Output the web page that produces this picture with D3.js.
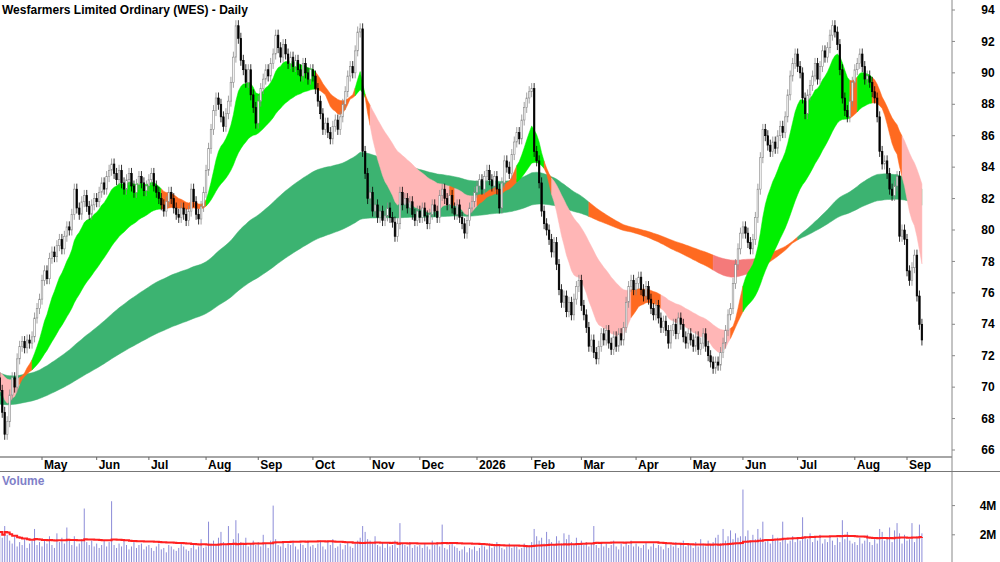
<!DOCTYPE html>
<html>
<head>
<meta charset="utf-8">
<script src="https://cdn.jsdelivr.net/npm/d3@7"></script>
<style>
  body { margin: 0; background: #fff; }
  text { font-family: Arial, "Liberation Sans", sans-serif; }
</style>
</head>
<body>
<svg id="chart" width="1000" height="562"></svg>
<script>
// daily closes, one row per month (Apr 2025 .. Sep 2026)
const closeRows = [
  [69.8,68.4,67.0,67.8,69.5,70.6,70.0,71.8,72.6,72.9,72.5,73.0,72.8,73.2,74.4,75.0,75.6],
  [76.8,77.4,76.9,78.2,78.6,78.3,79.0,79.4,78.8,79.6,80.2,80.0,81.0,82.6,81.4,81.0,81.8,82.2,81.5,81.0,81.6,82.0],
  [81.8,82.4,83.0,82.6,83.4,83.8,84.2,83.6,83.2,83.8,83.0,82.6,83.2,83.6,82.8,82.4,82.9,83.4,83.0,82.5,82.8],
  [83.2,83.6,82.8,82.4,82.0,81.6,81.2,81.8,82.4,82.0,81.4,81.0,80.8,81.4,81.0,80.6,81.2,82.6,81.8,81.0,80.7,81.5,82.4],
  [83.8,85.2,86.4,87.6,88.4,88.0,87.2,86.6,87.4,88.2,89.4,91.0,93.0,92.2,90.8,90.2,89.4,90.2,88.6,87.8,86.8],
  [88.2,89.0,89.6,90.2,89.8,90.6,91.2,92.4,91.6,91.0,91.8,91.2,90.6,91.0,90.4,90.8,90.2,89.8,90.6,90.0,89.6,90.2],
  [89.8,89.0,88.2,87.4,86.4,86.8,86.2,85.8,86.6,87.0,86.4,87.2,88.0,88.8,89.8,90.4,90.0,91.4,92.6,92.8,85.0,83.6,82.0],
  [82.4,81.2,81.6,80.8,81.2,80.6,80.9,81.4,80.8,80.5,79.6,80.4,82.4,81.6,82.0,81.4,81.8,81.0,80.6,81.2],
  [80.8,81.4,80.9,80.4,81.0,81.6,81.2,80.8,82.2,82.6,82.0,81.6,82.2,81.4,81.0,81.6,80.8,80.4,79.8,80.6,81.4,81.8,82.4],
  [82.8,83.2,82.6,83.4,83.8,83.2,82.8,83.4,82.6,81.4,83.0,84.4,84.0,83.6,84.8,85.6,86.2,85.8,87.0,87.8,88.4,88.8],
  [89.0,85.0,84.4,83.0,81.2,80.4,80.0,79.4,78.6,79.2,77.8,76.2,75.4,75.8,74.8,75.4,74.6,75.6,76.4,76.8],
  [75.2,74.6,73.8,72.6,73.0,72.2,71.8,72.6,73.4,73.0,73.6,72.8,72.4,73.2,72.6,73.4,73.0,73.8,75.4,76.4,76.8,76.2],
  [76.6,77.0,76.2,75.8,76.4,75.6,75.0,74.6,75.2,74.4,73.8,74.2,73.6,72.8,73.6,74.0,73.4,74.4,74.0,73.2,72.8,73.4],
  [73.0,72.6,73.2,72.4,72.8,73.4,72.6,72.0,71.6,71.2,71.6,71.4,72.2,72.8,73.6,74.6,75.0,76.6,77.8,78.8,79.8],
  [80.2,79.8,79.2,78.8,79.4,80.8,82.6,84.6,86.4,86.0,85.4,85.0,85.6,85.2,86.0,86.6,86.2,87.2,88.6,89.8,90.6,91.2],
  [90.4,90.0,88.4,87.4,88.6,89.2,89.8,90.6,89.6,90.4,91.4,91.0,91.6,92.4,93.0,92.6,91.8,90.2,88.4,87.6,87.2,88.2,89.4],
  [90.2,90.6,91.2,90.4,89.6,89.8,89.4,88.8,88.4,87.2,85.0,84.2,84.4,83.6,82.6,82.2,82.8,83.4,79.6,80.0,79.4],
  [77.4,76.8,77.6,78.4,75.8,74.0,73.0]
];
// daily volume in millions
const volumeRows = [
  [2.2,1.8,2.6,2.0,1.6,1.4,1.9,1.2,1.5,1.3,1.7,1.1,1.4,1.6,2.4,1.3,1.5],
  [1.2,1.6,1.4,1.9,1.3,1.1,2.1,1.5,1.8,1.4,2.5,1.6,1.3,1.9,1.2,1.4,1.7,3.8,1.5,1.3,1.6,1.2],
  [1.4,1.1,1.3,1.6,1.2,1.5,4.3,1.3,1.1,1.4,1.2,1.6,1.3,1.0,1.2,1.5,1.1,1.3,1.4,1.0,1.2],
  [1.3,1.1,0.9,1.2,1.4,1.0,1.1,0.8,1.3,1.2,1.0,0.9,1.1,1.5,1.2,1.0,0.9,1.1,1.3,1.0,1.2,1.7,1.1],
  [1.2,2.9,1.4,1.6,1.3,1.8,2.2,1.5,1.3,2.6,1.4,1.7,3.0,2.1,1.5,1.3,1.8,1.2,1.4,1.6,1.3],
  [1.5,1.2,2.0,1.4,1.1,1.6,4.0,1.7,1.3,1.2,1.5,1.1,1.4,1.3,1.6,1.2,1.0,1.4,1.3,1.1,1.5,1.2],
  [1.3,1.1,1.4,1.6,1.2,1.0,1.5,1.3,1.7,1.1,1.2,1.4,1.0,1.3,1.5,1.2,1.1,1.4,1.6,1.8,2.6,2.2,1.7],
  [1.6,1.4,1.9,1.3,1.2,1.5,1.1,1.4,1.2,1.3,1.6,1.1,2.8,1.4,1.3,1.2,1.5,1.1,1.3,1.2],
  [1.3,1.1,1.4,1.2,1.0,1.6,1.3,1.5,1.2,2.7,1.1,1.0,1.3,1.4,1.2,1.1,0.9,1.0,1.2,0.8,1.1,1.0,1.2],
  [0.9,1.1,1.3,1.2,1.0,1.4,1.1,1.2,1.5,1.3,1.1,1.0,1.2,1.4,1.1,1.3,1.2,1.0,1.1,1.4,1.2,1.3],
  [1.5,2.4,1.9,1.6,1.8,1.4,2.2,1.7,1.5,1.3,1.9,1.6,1.4,2.1,1.7,2.0,1.5,1.3,1.8,1.4],
  [1.6,1.3,1.5,1.2,1.4,2.6,1.3,1.1,1.5,1.2,1.4,1.1,1.3,1.6,1.2,1.0,1.4,1.2,1.5,1.3,1.6,1.2],
  [1.4,1.2,1.1,1.3,1.5,1.0,1.2,1.4,1.1,1.3,1.2,1.0,1.4,1.1,1.3,1.2,1.5,1.1,1.3,1.6,1.2,1.4],
  [1.3,1.1,1.5,1.2,1.7,1.4,1.2,1.6,1.3,1.5,1.8,2.0,1.4,2.4,1.6,1.9,2.3,1.7,2.1,1.8,1.9],
  [5.1,1.9,2.3,1.6,2.0,1.7,2.4,1.8,2.9,1.5,1.7,1.4,2.0,1.6,1.8,1.5,2.9,1.7,1.4,1.6,1.9,1.5],
  [1.8,1.6,3.2,1.9,1.7,2.1,1.5,1.8,1.6,2.0,1.4,1.7,1.5,1.9,1.6,1.3,1.8,1.5,3.0,1.7,2.2,1.6,1.4],
  [1.5,1.3,1.8,1.4,1.6,2.0,1.5,1.3,1.7,1.4,2.4,2.2,1.6,1.8,2.5,1.5,2.3,2.8,2.1,1.4,2.0],
  [1.6,1.7,2.8,1.5,1.9,2.7,2.1]
];
// EMA periods and starting values (ribbons already running when the chart starts)
const shortPeriods = [12, 16, 21, 27, 34, 42];
const shortSeeds = [69.8, 70.2, 70.5, 70.7, 70.9, 71.0];
const longPeriods = [130, 150, 170, 190, 210, 235];
const longSeeds = [70.9, 70.5, 70.1, 69.7, 69.3, 68.9];
const priceTicks = [66, 68, 70, 72, 74, 76, 78, 80, 82, 84, 86, 88, 90, 92, 94];
const volumeTicks = [2, 4];
const monthNames = ["Jan","Feb","Mar","Apr","May","Jun","Jul","Aug","Sep","Oct","Nov","Dec"];

const closes = closeRows.flat();
const volumes = volumeRows.flat();

// trading days (weekdays) from 8 Apr 2025
const dates = [];
let d = new Date(2025, 3, 8);
while (dates.length < closes.length) {
  if (d.getDay() !== 0 && d.getDay() !== 6) dates.push(new Date(d));
  d.setDate(d.getDate() + 1);
}

const candles = closes.map((c, i) => {
  const o = i === 0 ? 70.6 : closes[i - 1];
  return { i, o, c, h: Math.max(o, c) + 0.35, l: Math.min(o, c) - 0.35, v: volumes[i] };
});

function emaSeries(period, seed) {
  const k = 2 / (period + 1);
  let e = seed;
  return closes.map(c => (e = c * k + e * (1 - k)));
}
function ribbon(periods, seeds) {
  const lines = periods.map((p, j) => emaSeries(p, seeds[j]));
  return closes.map((c, i) => {
    const vals = lines.map(l => l[i]);
    let up = true, down = true;
    for (let j = 1; j < vals.length; j++) {
      if (vals[j] > vals[j - 1]) up = false;
      if (vals[j] < vals[j - 1]) down = false;
    }
    return { i, lo: d3.min(vals), hi: d3.max(vals), state: up ? "up" : down ? "down" : "mixed" };
  });
}
const shortRib = ribbon(shortPeriods, shortSeeds);
const longRib = ribbon(longPeriods, longSeeds);

const svg = d3.select("#chart");
const axisX = 952;

const x = d3.scaleLinear().domain([17, 365]).range([42, 907]);
const y = d3.scaleLinear().domain([66, 94]).range([450, 10]);
const yv = d3.scaleLinear().domain([0, 4]).range([564, 505.6]);

const plot = svg.append("g");
plot.append("clipPath").attr("id", "pclip").append("rect")
  .attr("x", 0).attr("y", 0).attr("width", axisX).attr("height", 457);

function drawRibbon(rib, colors) {
  const g = plot.append("g").attr("clip-path", "url(#pclip)");
  const area = d3.area().x(p => x(p.i)).y0(p => y(p.lo)).y1(p => y(p.hi));
  let start = 0;
  for (let i = 1; i <= rib.length; i++) {
    if (i === rib.length || rib[i].state !== rib[start].state) {
      const seg = rib.slice(start, Math.min(i + 1, rib.length));
      g.append("path").attr("d", area(seg)).attr("fill", colors[rib[start].state])
        .attr("stroke", colors[rib[start].state]).attr("stroke-width", 0.5);
      start = i;
    }
  }
}
drawRibbon(longRib, { up: "#3cb371", mixed: "#ff6a20", down: "#f47a7a" });
drawRibbon(shortRib, { up: "#00f000", mixed: "#ff6a20", down: "#ffb6b6" });

// candles
const cw = 1.6;
const cg = plot.append("g").attr("clip-path", "url(#pclip)");
candles.forEach(k => {
  const upDay = k.c >= k.o;
  const col = upDay ? "#8a8a8a" : "#000";
  cg.append("line").attr("x1", x(k.i)).attr("x2", x(k.i))
    .attr("y1", y(k.h)).attr("y2", y(k.l)).attr("stroke", col).attr("stroke-width", 0.8);
  cg.append("rect").attr("x", x(k.i) - cw / 2)
    .attr("y", y(Math.max(k.o, k.c)))
    .attr("width", cw).attr("height", Math.max(1, Math.abs(y(k.o) - y(k.c))))
    .attr("fill", upDay ? "#fff" : "#000").attr("stroke", col).attr("stroke-width", 0.6);
});

// volume
const vg = svg.append("g");
candles.forEach(k => {
  vg.append("line").attr("x1", x(k.i)).attr("x2", x(k.i))
    .attr("y1", yv(0)).attr("y2", yv(k.v)).attr("stroke", "#8c8cd8").attr("stroke-width", 1);
});
const vma = volumes.map((v, i) => d3.mean(volumes.slice(Math.max(0, i - 49), i + 1)));
vg.append("path")
  .attr("d", d3.line().x((v, i) => x(i)).y(v => yv(v)).curve(d3.curveStepAfter)(vma))
  .attr("fill", "none").attr("stroke", "#ff2020").attr("stroke-width", 2);

// frame lines
svg.append("line").attr("x1", axisX).attr("x2", axisX).attr("y1", 0).attr("y2", 562).attr("stroke", "#888");
svg.append("line").attr("x1", 0).attr("x2", axisX).attr("y1", 457).attr("y2", 457).attr("stroke", "#888").attr("stroke-width", 1.5);
svg.append("line").attr("x1", 0).attr("x2", 1000).attr("y1", 471.5).attr("y2", 471.5).attr("stroke", "#777");

// price axis
const ya = svg.append("g");
priceTicks.forEach(t => {
  ya.append("line").attr("x1", axisX).attr("x2", axisX + 3).attr("y1", y(t)).attr("y2", y(t)).attr("stroke", "#888");
  ya.append("text").attr("x", 988).attr("y", y(t)).attr("dy", "0.35em").attr("text-anchor", "middle")
    .attr("font-size", 12).attr("font-weight", "bold").text(t);
});
volumeTicks.forEach(t => {
  ya.append("line").attr("x1", axisX).attr("x2", axisX + 3).attr("y1", yv(t)).attr("y2", yv(t)).attr("stroke", "#888");
  ya.append("text").attr("x", 988).attr("y", yv(t)).attr("dy", "0.35em").attr("text-anchor", "middle")
    .attr("font-size", 12).attr("font-weight", "bold").text(t + "M");
});

// month axis
dates.forEach((dt, i) => {
  if (i === 0 || dt.getMonth() === dates[i - 1].getMonth()) return;
  const px = x(i);
  svg.append("line").attr("x1", px).attr("x2", px).attr("y1", 457).attr("y2", 460).attr("stroke", "#666");
  svg.append("text").attr("x", px + 2).attr("y", 469).attr("font-size", 12).attr("font-weight", "bold")
    .text(dt.getMonth() === 0 ? dt.getFullYear() : monthNames[dt.getMonth()]);
});

svg.append("text").attr("x", 2).attr("y", 14).attr("font-size", 12).attr("font-weight", "bold")
  .text("Wesfarmers Limited Ordinary (WES) - Daily");
svg.append("text").attr("x", 2).attr("y", 485).attr("font-size", 12).attr("font-weight", "bold")
  .attr("fill", "#8080c8").text("Volume");
</script>
</body>
</html>
